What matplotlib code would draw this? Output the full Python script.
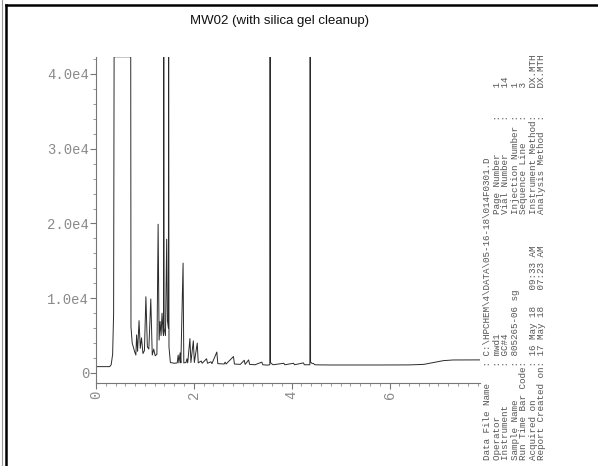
import matplotlib
matplotlib.use("Agg")
import matplotlib.pyplot as plt
from matplotlib.lines import Line2D
from matplotlib.ticker import MultipleLocator, FixedLocator

W, H = 598, 466

# ---- data: chromatogram trace vertices (retention time, min ; response) ----
time = [0.00, 0.28, 0.31, 0.34, 0.36, 0.37, 0.71, 0.715, 0.74, 0.79, 0.815,
        0.83, 0.85, 0.88, 0.905, 0.93, 0.96, 0.99, 1.02, 1.05, 1.08, 1.12,
        1.15, 1.18, 1.21, 1.245, 1.27, 1.29, 1.31, 1.33, 1.35, 1.37, 1.38,
        1.383, 1.387, 1.392, 1.42, 1.445, 1.46, 1.48, 1.483, 1.487, 1.492,
        1.52, 1.60, 1.66, 1.68, 1.695, 1.72, 1.735, 1.78, 1.795, 1.84, 1.86,
        1.875, 1.92, 1.94, 1.99, 2.01, 2.07, 2.09, 2.15, 2.17, 2.26, 2.28,
        2.35, 2.37, 2.47, 2.49, 2.62, 2.64, 2.66, 2.81, 2.83, 2.95, 3.03,
        3.05, 3.12, 3.14, 3.25, 3.39, 3.41, 3.50, 3.553, 3.557, 3.562, 3.567,
        3.59, 3.62, 3.84, 3.86, 4.04, 4.06, 4.24, 4.26, 4.372, 4.376, 4.381,
        4.386, 4.41, 4.45, 4.47, 4.60, 4.80, 5.20, 5.80, 6.40, 6.70, 6.90,
        7.10, 7.30, 7.85]
signal = [850, 850, 1100, 2500, 8000, 42300, 42300, 6200, 4000, 2850, 2400,
          5100, 2900, 7000, 3300, 4700, 2600, 3000, 10200, 3500, 3200, 9900,
          2400, 3200, 2300, 2500, 19900, 4400, 6900, 5000, 8000, 5500, 5000,
          42300, 42300, 6000, 5000, 17900, 7000, 6000, 42300, 42300, 3500,
          1400, 1300, 1350, 2400, 1350, 2700, 1350, 14700, 1350, 1400, 1900,
          1350, 4600, 1400, 4300, 1400, 4000, 1350, 1600, 1300, 1900, 1300,
          1500, 1250, 2800, 1250, 1200, 1450, 1200, 2200, 1200, 1150, 1700,
          1150, 1750, 1150, 1100, 1450, 1100, 1050, 1100, 42300, 42300, 1400,
          1250, 1100, 1300, 1100, 1300, 1100, 1350, 1100, 1100, 42300, 42300,
          1500, 1300, 1250, 1100, 1080, 1070, 1070, 1070, 1080, 1150, 1400,
          1650, 1740, 1750]

y_ticks = [0, 10000, 20000, 30000, 40000]
y_tick_labels = ["0", "1.0e4", "2.0e4", "3.0e4", "4.0e4"]
x_ticks = [0, 2, 4, 6]
x_tick_labels = ["0", "2", "4", "6"]

title = "MW02 (with silica gel cleanup)"
info_left = [
    "Data File Name   : C:\\HPCHEM\\4\\DATA\\05-16-18\\014F0301.D",
    "Operator         : mwd1",
    "Instrument       : GC#4",
    "Sample Name      : 805265-06 sg",
    "Run Time Bar Code:",
    "Acquired on      : 16 May 18   09:33 AM",
    "Report Created on: 17 May 18   07:23 AM",
]
info_right = [
    "",
    "Page Number      :     1",
    "Vial Number      :     14",
    "Injection Number :     1",
    "Sequence Line    :     3",
    "Instrument Method:     DX.MTH",
    "Analysis Method  :     DX.MTH",
]

# ---- figure ----
fig = plt.figure(figsize=(W / 100, H / 100), dpi=100)
fig.patch.set_facecolor("white")

def fx(px):
    return px / W

def fy(py):
    return 1 - py / H

# page frame
fig.add_artist(Line2D([fx(6), fx(6)], [fy(4.5), 0], color="black", lw=1.8))
fig.add_artist(Line2D([fx(6), 1], [fy(4.8), fy(4.8)], color="black", lw=1.8))
fig.add_artist(Line2D([fx(1.5), fx(1.5)], [0, 1], color="#9a9a9a", lw=0.8))

fig.text(fx(279), fy(21), title, ha="center", va="center",
         fontsize=9.5, family="Liberation Sans", color="#111111")

ax = fig.add_axes([fx(96), fy(383), fx(480) - fx(96), fy(57) - fy(383)])
ax.plot(time, signal, color="#2a2a2a", lw=0.7)
ax.set_xlim(0, 7.85)
ax.set_ylim(-1340, 42270)

for s in ["top", "right"]:
    ax.spines[s].set_visible(False)
for s in ["left", "bottom"]:
    ax.spines[s].set_color("#777777")
    ax.spines[s].set_linewidth(0.8)

ax.yaxis.set_major_locator(FixedLocator(y_ticks))
ax.set_yticklabels(y_tick_labels)
ax.yaxis.set_minor_locator(MultipleLocator(2000))
ax.xaxis.set_major_locator(FixedLocator(x_ticks))
ax.set_xticklabels(x_tick_labels, rotation=90)
ax.xaxis.set_minor_locator(MultipleLocator(0.2))

ax.tick_params(axis="both", which="major", length=4, width=0.8,
               color="#777777", labelcolor="#8a8a8a", labelsize=10)
ax.tick_params(axis="both", which="minor", length=2.5, width=0.6,
               color="#888888")
for lab in ax.get_yticklabels() + ax.get_xticklabels():
    lab.set_family("Liberation Mono")
ax.tick_params(axis="y", pad=1)
ax.tick_params(axis="x", pad=1.5)

# rotated report header
col_x = [488, 497, 506, 515, 524, 533, 542]
for cx, left, right in zip(col_x, info_left, info_right):
    fig.text(fx(cx), fy(460), left, rotation=90, ha="center", va="bottom",
             fontsize=6.7, family="Liberation Mono", color="#555555")
    if right:
        fig.text(fx(cx), fy(214), right, rotation=90, ha="center",
                 va="bottom", fontsize=6.7, family="Liberation Mono",
                 color="#555555")

fig.savefig("out.png", dpi=100)
